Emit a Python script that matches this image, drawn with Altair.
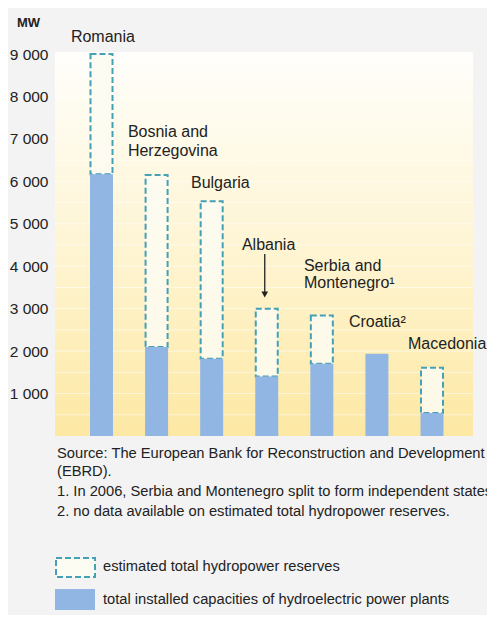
import altair as alt
import pandas as pd

# ---------------- data ----------------
countries = ["Romania", "Bosnia and Herzegovina", "Bulgaria", "Albania",
             "Serbia and Montenegro", "Croatia", "Macedonia"]
installed = [6170, 2100, 1820, 1400, 1700, 1940, 540]
estimated = [9000, 6150, 5530, 3000, 2840, None, 1610]
label_lines = [["Romania"], ["Bosnia and", "Herzegovina"], ["Bulgaria"], ["Albania"],
               ["Serbia and", "Montenegro\u00b9"], ["Croatia\u00b2"], ["Macedonia"]]
y_ticks = [1000, 2000, 3000, 4000, 5000, 6000, 7000, 8000, 9000]
grid_values = [500, 1000, 1500, 2000, 2500, 3000, 3500, 4000, 4500, 5000,
               5500, 6000, 6500, 7000, 7500, 8000, 8500, 9000]
unit_label = "MW"
source_lines = ["Source: The European Bank for Reconstruction and Development", "(EBRD)."]
footnotes = ["1. In 2006, Serbia and Montenegro split to form independent states.",
             "2. no data available on estimated total hydropower reserves."]
legend_labels = ["estimated total hydropower reserves",
                 "total installed capacities of hydroelectric power plants"]

# ---------------- styles ----------------
W, H = 418, 384
FONT = "Liberation Sans"
TXT = "#222222"
BLUE = "#92b6e3"
TEAL = "#44a0b6"
BOX_FILL = "#fdfcf2"

xscale = alt.Scale(type="point", domain=countries, range=[46.5, 377], padding=0)
yscale = alt.Scale(domain=[0, 9050], nice=False, zero=True)

df = pd.DataFrame({"country": countries, "installed": installed, "estimated": estimated})
df["top"] = [e if e is not None else i for e, i in zip(estimated, installed)]
df_est = df.dropna(subset=["estimated"])

layers = []

# background gradient
bg = alt.Chart(pd.DataFrame({"a": [0]})).mark_rect(
    color=alt.LinearGradient(
        gradient="linear",
        stops=[alt.GradientStop(color="#fffefb", offset=0),
               alt.GradientStop(color="#fef5d4", offset=0.5),
               alt.GradientStop(color="#fde8a3", offset=1)],
        x1=0, x2=0, y1=0, y2=1)
).encode(x=alt.value(0), x2=alt.value(W), y=alt.value(0), y2=alt.value(H))
layers.append(bg)

# faint grid lines
grid = alt.Chart(pd.DataFrame({"g": grid_values})).mark_rule(
    color="#ffffff", opacity=0.55, strokeWidth=1
).encode(
    y=alt.Y("g:Q", scale=yscale,
            axis=alt.Axis(values=y_ticks, title=None, domain=False, ticks=False, grid=False,
                          labelPadding=7, labelFont=FONT, labelFontSize=15.5, labelColor=TXT,
                          labelExpr="replace(format(datum.value, ','), ',', ' ')")),
    x=alt.value(0), x2=alt.value(W)
)
layers.append(grid)

# estimated reserves (dashed boxes)
est = alt.Chart(df_est).mark_bar(
    size=22, fill=BOX_FILL, fillOpacity=0.85, stroke=TEAL, strokeWidth=2, strokeDash=[6, 3]
).encode(
    x=alt.X("country:N", scale=xscale, axis=None),
    y=alt.Y("estimated:Q", scale=yscale),
    y2="installed:Q"
)
layers.append(est)

# installed capacity
inst = alt.Chart(df).mark_bar(size=23, color=BLUE).encode(
    x=alt.X("country:N", scale=xscale, axis=None),
    y=alt.Y("installed:Q", scale=yscale),
    y2=alt.datum(0)
)
layers.append(inst)

# country labels
offsets = {
    "Romania": (-30.6, [-17]),
    "Bosnia and Herzegovina": (-28.7, [-43, -24]),
    "Bulgaria": (-20.7, [-18.4]),
    "Albania": (-24.8, [-63.7]),
    "Serbia and Montenegro": (-17.9, [-49.5, -32.5]),
    "Croatia": (-28, [-31.7]),
    "Macedonia": (-24, [-23.7]),
}
for c, lines, t in zip(countries, label_lines, df["top"]):
    dx, dys = offsets[c]
    for line, dy in zip(lines, dys):
        lab = alt.Chart(pd.DataFrame({"country": [c], "top": [t], "text": [line]})).mark_text(
            align="left", baseline="middle", dx=dx, dy=dy,
            font=FONT, fontSize=16, color=TXT
        ).encode(
            x=alt.X("country:N", scale=xscale, axis=None),
            y=alt.Y("top:Q", scale=yscale),
            text="text:N"
        )
        layers.append(lab)

# arrow for Albania
alb = df[df["country"] == "Albania"].iloc[0]
arrow_df = pd.DataFrame({"country": ["Albania"],
                         "y1": [alb["estimated"] + 1290],
                         "y2": [alb["estimated"] + 380],
                         "yh": [alb["estimated"] + 335]})
arrow = alt.Chart(arrow_df).mark_rule(color=TXT, strokeWidth=1.3, xOffset=-2).encode(
    x=alt.X("country:N", scale=xscale, axis=None),
    y=alt.Y("y1:Q", scale=yscale), y2="y2:Q"
)
head = alt.Chart(arrow_df).mark_point(shape="triangle-down", filled=True, size=45,
                                      color=TXT, opacity=1, xOffset=-2).encode(
    x=alt.X("country:N", scale=xscale, axis=None),
    y=alt.Y("yh:Q", scale=yscale)
)
layers += [arrow, head]

# unit label
mw = alt.Chart(pd.DataFrame({"t": [unit_label]})).mark_text(
    align="center", baseline="middle", font=FONT, fontSize=13, fontWeight="bold", color=TXT
).encode(x=alt.value(-26.5), y=alt.value(-29), text="t:N")
layers.append(mw)

# footer text
foot_y = [402, 420, 440, 460]
foot_lines = source_lines + footnotes
for line, yy in zip(foot_lines, foot_y):
    f = alt.Chart(pd.DataFrame({"t": [line]})).mark_text(
        align="left", baseline="middle", font=FONT, fontSize=14.7, color=TXT
    ).encode(x=alt.value(2), y=alt.value(yy), text="t:N")
    layers.append(f)

# legend
leg_box1 = alt.Chart(pd.DataFrame({"a": [0]})).mark_rect(
    fill=BOX_FILL, stroke=TEAL, strokeWidth=2, strokeDash=[6, 3]
).encode(x=alt.value(1), x2=alt.value(40), y=alt.value(506), y2=alt.value(525))
leg_box2 = alt.Chart(pd.DataFrame({"a": [0]})).mark_rect(fill=BLUE).encode(
    x=alt.value(0), x2=alt.value(40), y=alt.value(537), y2=alt.value(558))
layers += [leg_box1, leg_box2]
for line, yy in zip(legend_labels, [515, 548]):
    t = alt.Chart(pd.DataFrame({"t": [line]})).mark_text(
        align="left", baseline="middle", font=FONT, fontSize=14.7, color=TXT
    ).encode(x=alt.value(48), y=alt.value(yy), text="t:N")
    layers.append(t)

chart = alt.layer(*layers).properties(
    width=W, height=H,
    padding={"left": 47, "top": 44, "right": 14, "bottom": 179},
    autosize=alt.AutoSizeParams(type="none"),
    background="#f3f3f3"
).configure_view(stroke=None)

chart.save("out.html", embed_options={"renderer": "svg", "actions": False})
